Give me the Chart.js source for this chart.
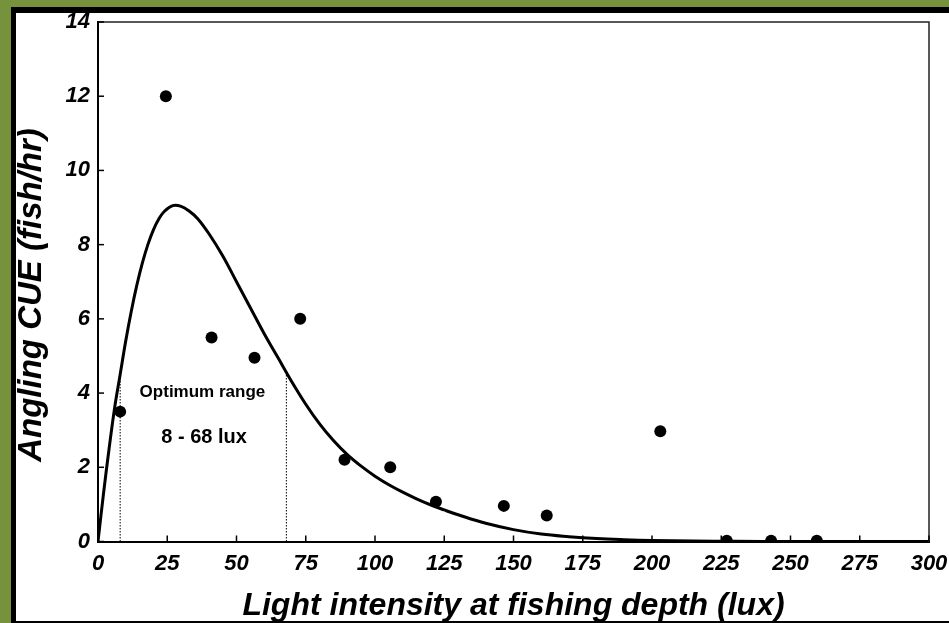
<!DOCTYPE html>
<html><head><meta charset="utf-8">
<script src="https://cdn.jsdelivr.net/npm/chart.js@4.4.0/dist/chart.umd.min.js"></script>
<style>
html,body{margin:0;padding:0;width:949px;height:623px;overflow:hidden;background:#76923C;}
#blk{position:absolute;left:11px;top:7px;right:0;bottom:0;background:#000;}
#wht{position:absolute;left:16px;top:13px;right:0;bottom:2px;background:#fff;}
#c{position:absolute;left:0;top:0;}
</style></head><body>
<div id="blk"></div><div id="wht"></div>
<canvas id="c" width="949" height="623"></canvas>
<script>
// Observed catch data
const lightLux = [8, 24.5, 41, 56.5, 73, 89, 105.5, 122, 146.5, 162, 203, 227, 243, 259.5];
const anglingCUE = [3.5, 12, 5.5, 4.95, 6, 2.2, 2, 1.07, 0.96, 0.7, 2.97, 0.02, 0.02, 0.02];
// Fitted curve
const fitLux = [0, 2, 4, 6, 8, 10, 12, 14, 16, 18, 20, 22, 24, 27, 30, 33, 36, 40, 45, 50, 55, 60, 65, 70, 75, 80, 85, 90, 95, 100, 105, 110, 115, 120, 125, 130, 140, 150, 160, 170, 180, 190, 200, 215, 230, 250, 275, 300];
const fitCUE = [0, 1.3, 2.5, 3.6, 4.5, 5.4, 6.2, 6.9, 7.5, 8.0, 8.4, 8.7, 8.9, 9.05, 9.03, 8.9, 8.7, 8.3, 7.7, 7.0, 6.3, 5.6, 4.95, 4.3, 3.7, 3.17, 2.72, 2.34, 2.03, 1.76, 1.53, 1.33, 1.15, 0.99, 0.85, 0.72, 0.49, 0.32, 0.2, 0.13, 0.08, 0.05, 0.03, 0.015, 0.005, 0, 0, 0];
// Optimum range bounds (lux) and curve height there
const optimumLux = [8, 68];
const optimumTop = [4.45, 4.5];
// Tick values
const xTickValues = [0, 25, 50, 75, 100, 125, 150, 175, 200, 225, 250, 275, 300];
const yTickValues = [0, 2, 4, 6, 8, 10, 12, 14];
// Texts
const xTitle = 'Light intensity at fishing depth (lux)';
const yTitle = 'Angling CUE (fish/hr)';
const noteTexts = ['Optimum range', '8 - 68 lux'];
const noteLux = [37.7, 38.3];
const noteCUE = [4.03, 2.79];

const FAM = '"Liberation Sans", Arial, Helvetica, sans-serif';

const datasets = [
  {
    label: 'fit',
    data: fitLux.map((v, i) => ({x: v, y: fitCUE[i]})),
    showLine: true, pointRadius: 0, borderColor: '#000', borderWidth: 3,
    tension: 0.4, clip: 0, order: 2
  },
  ...optimumLux.map((v, i) => ({
    label: 'bound' + i,
    data: [{x: v, y: 0}, {x: v, y: optimumTop[i]}],
    showLine: true, pointRadius: 0, borderColor: '#000', borderWidth: 1,
    borderDash: [1.5, 1.5], order: 3
  })),
  {
    label: 'obs',
    data: lightLux.map((v, i) => ({x: v, y: anglingCUE[i]})),
    showLine: false, pointRadius: 6, pointHoverRadius: 6,
    backgroundColor: '#000', borderWidth: 0, clip: 0, order: 1
  }
];

const decor = {
  id: 'decor',
  afterDraw(chart) {
    const {ctx, chartArea: a, scales: {x, y}} = chart;
    ctx.save();
    ctx.strokeStyle = '#222'; ctx.lineWidth = 1.5;
    ctx.beginPath(); ctx.moveTo(a.left, a.top); ctx.lineTo(a.right, a.top); ctx.lineTo(a.right, a.bottom); ctx.stroke();
    ctx.strokeStyle = '#000'; ctx.lineWidth = 1.5;
    x.ticks.forEach(t => { const p = x.getPixelForValue(t.value); ctx.beginPath(); ctx.moveTo(p, a.bottom); ctx.lineTo(p, a.bottom - 6); ctx.stroke(); });
    y.ticks.forEach(t => { const p = y.getPixelForValue(t.value); ctx.beginPath(); ctx.moveTo(a.left, p); ctx.lineTo(a.left + 6, p); ctx.stroke(); });
    ctx.fillStyle = '#000'; ctx.textAlign = 'center'; ctx.textBaseline = 'middle';
    ctx.font = 'bold 17px ' + FAM;
    ctx.fillText(noteTexts[0], x.getPixelForValue(noteLux[0]), y.getPixelForValue(noteCUE[0]));
    ctx.font = 'bold 20px ' + FAM;
    ctx.fillText(noteTexts[1], x.getPixelForValue(noteLux[1]), y.getPixelForValue(noteCUE[1]));
    ctx.textBaseline = 'alphabetic';
    ctx.font = 'italic bold 32px ' + FAM;
    ctx.fillText(xTitle, (a.left + a.right) / 2, 615);
    ctx.translate(41, 295); ctx.rotate(-Math.PI / 2);
    ctx.font = 'italic bold 33px ' + FAM;
    ctx.fillText(yTitle, 0, 0);
    ctx.restore();
  }
};

const tickFont = {family: FAM, size: 22, weight: 'bold', style: 'italic'};

new Chart(document.getElementById('c'), {
  type: 'scatter',
  data: {datasets},
  options: {
    responsive: false, animation: false, devicePixelRatio: 1,
    layout: {padding: {top: 22, right: 20, left: 0, bottom: 0}},
    plugins: {legend: {display: false}, tooltip: {enabled: false}},
    scales: {
      x: {
        type: 'linear', min: 0, max: 300,
        afterBuildTicks: s => { s.ticks = xTickValues.map(v => ({value: v})); },
        afterFit: s => { s.height = 81.5; s.paddingLeft = 0; s.paddingRight = 0; },
        ticks: {color: '#000', font: tickFont, padding: 9, maxRotation: 0, autoSkip: false},
        grid: {display: false, drawTicks: false},
        border: {display: true, color: '#000', width: 2}
      },
      y: {
        type: 'linear', min: 0, max: 14,
        afterBuildTicks: s => { s.ticks = yTickValues.map(v => ({value: v})); },
        afterFit: s => { s.width = 98; s.paddingTop = 0; s.paddingBottom = 0; },
        ticks: {color: '#000', font: tickFont, padding: 8},
        grid: {display: false, drawTicks: false},
        border: {display: true, color: '#000', width: 2}
      }
    }
  },
  plugins: [decor]
});
</script>
</body></html>
